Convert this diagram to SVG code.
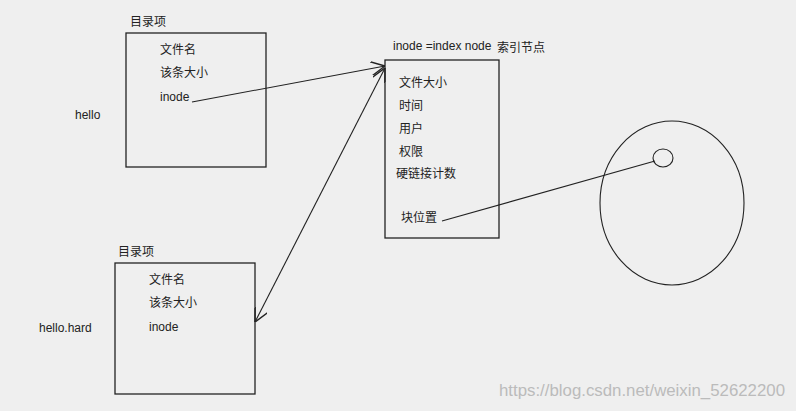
<svg xmlns="http://www.w3.org/2000/svg" width="796" height="411" viewBox="0 0 796 411">
<defs>
<marker id="a" viewBox="0 0 10 10" refX="10" refY="5" markerWidth="14" markerHeight="14" markerUnits="userSpaceOnUse" orient="auto-start-reverse"><path d="M0,0 L10,5 L0,10" fill="none" stroke="#222" stroke-width="1"/></marker>
</defs>
<style>
text{font-family:"Liberation Sans","Noto Sans CJK SC",sans-serif;font-size:12px;fill:#222}
.box{fill:none;stroke:#222;stroke-width:1.3}
.ln{fill:none;stroke:#222;stroke-width:1.1}
</style>
<rect width="796" height="411" fill="#efefef"/>
<g id="dir1">
<text x="130" y="26">目录项</text>
<rect class="box" x="126" y="33" width="140" height="134"/>
<text x="160" y="54">文件名</text>
<text x="160" y="77">该条大小</text>
<text x="160" y="101">inode</text>
<text x="75" y="119">hello</text>
</g>
<g id="dir2">
<text x="118" y="256">目录项</text>
<rect class="box" x="115" y="263" width="140" height="131"/>
<text x="149" y="284">文件名</text>
<text x="149" y="307">该条大小</text>
<text x="149" y="331">inode</text>
<text x="39" y="332">hello.hard</text>
</g>
<g id="inode">
<text x="393" y="50">inode =index node</text>
<text x="497" y="52">索引节点</text>
<rect class="box" x="385" y="60" width="114" height="178"/>
<text x="399" y="87">文件大小</text>
<text x="399" y="110">时间</text>
<text x="399" y="133">用户</text>
<text x="399" y="156">权限</text>
<text x="396" y="178">硬链接计数</text>
<text x="401" y="222">块位置</text>
</g>
<g id="disk">
<ellipse cx="672" cy="203" rx="72" ry="82" fill="none" stroke="#222" stroke-width="1.1"/>
<ellipse cx="663" cy="158" rx="10" ry="9" fill="none" stroke="#222" stroke-width="1.1"/>
</g>
<g id="connectors">
<line class="ln" x1="192" y1="102" x2="385" y2="66" marker-end="url(#a)"/>
<line class="ln" x1="255" y1="322" x2="385" y2="68" marker-start="url(#a)" marker-end="url(#a)"/>
<line class="ln" x1="442" y1="221" x2="655" y2="161"/>
</g>
<text x="499" y="396" textLength="286" lengthAdjust="spacingAndGlyphs" style="font-size:16px;fill:#bbb">https://blog.csdn.net/weixin_52622200</text>
</svg>
